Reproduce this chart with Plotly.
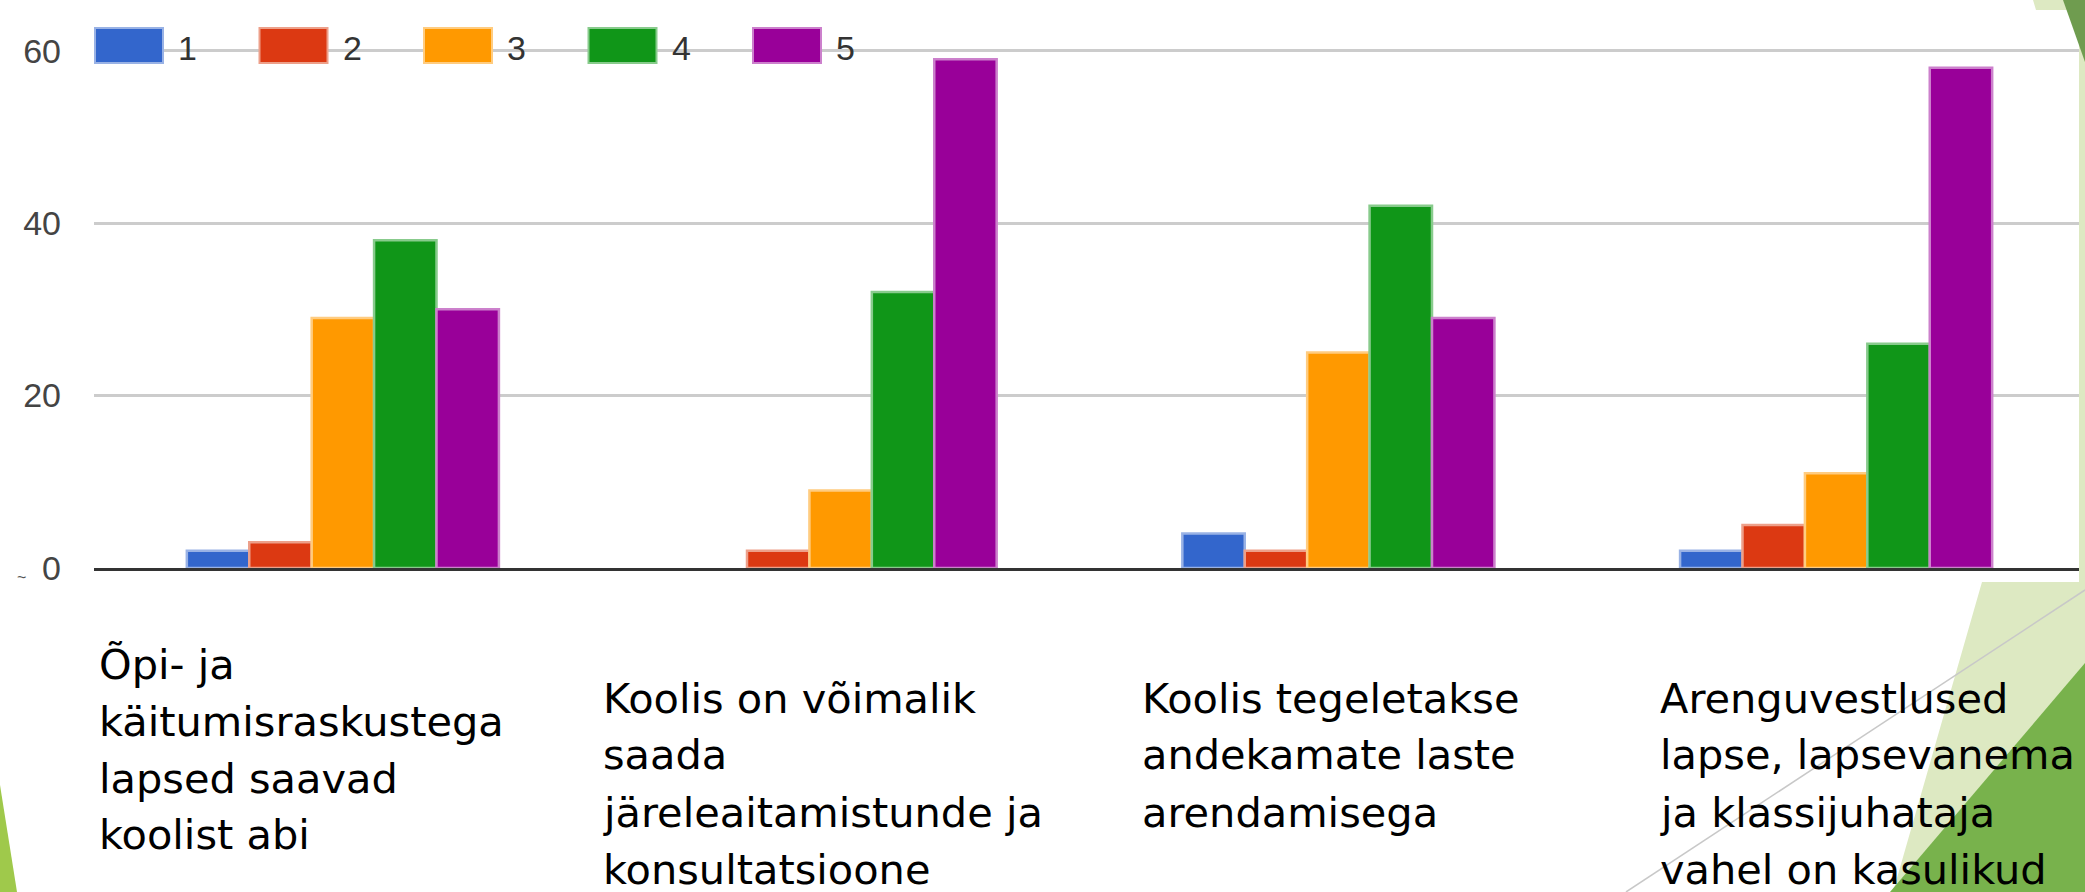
import plotly.graph_objects as go

# answer counts per statement, one list per rating 1..5
categories = [
    "Õpi- ja käitumisraskustega lapsed saavad koolist abi",
    "Koolis on võimalik saada järeleaitamistunde ja konsultatsioone",
    "Koolis tegeletakse andekamate laste arendamisega",
    "Arenguvestlused lapse, lapsevanema ja klassijuhataja vahel on kasulikud",
]
label_lines = [
    ["Õpi- ja", "käitumisraskustega", "lapsed saavad", "koolist abi"],
    ["Koolis on võimalik", "saada", "järeleaitamistunde ja", "konsultatsioone"],
    ["Koolis tegeletakse", "andekamate laste", "arendamisega"],
    ["Arenguvestlused", "lapse, lapsevanema", "ja klassijuhataja", "vahel on kasulikud"],
]
series_names = ["1", "2", "3", "4", "5"]
rating_1 = [2, 0, 4, 2]
rating_2 = [3, 2, 2, 5]
rating_3 = [29, 9, 25, 11]
rating_4 = [38, 32, 42, 26]
rating_5 = [30, 59, 29, 58]
y_ticks = [0, 20, 40, 60]

colors = ["#3366cc", "#dc3912", "#ff9900", "#109618", "#990099"]
edges = ["#99b2e5", "#eda08a", "#ffcc80", "#88cb8c", "#cc80cc"]

W, H = 2085, 892
L, R, T, B = 94, 0, 42, 324
PW, PH = W - L - R, H - T - B


def px(x):
    return (x - L) / PW


def py(y):
    return (H - B - y) / PH


fig = go.Figure()
for name, vals, c, e in zip(series_names, [rating_1, rating_2, rating_3, rating_4, rating_5], colors, edges):
    fig.add_trace(go.Bar(
        x=categories, y=vals, name=name,
        marker=dict(color=c, line=dict(color=e, width=[2.5 if v else 0 for v in vals])),
    ))

shapes = []
annotations = []

# legend drawn by hand: big boxes sitting on the top gridline
for i, (name, c, e) in enumerate(zip(series_names, colors, edges)):
    x0 = 95 + 164.5 * i
    shapes.append(dict(type="rect", xref="paper", yref="paper", x0=px(x0), x1=px(x0 + 68),
                       y0=py(63), y1=py(28), fillcolor=c, line=dict(color=e, width=2), layer="above"))
    annotations.append(dict(text=name, xref="paper", yref="paper", x=px(x0 + 81), y=py(48),
                            xanchor="left", yanchor="middle", showarrow=False,
                            font=dict(family="Liberation Sans", size=34, color="#333")))

# leftover glyph next to the zero label
annotations.append(dict(text="~", xref="paper", yref="paper", x=px(21), y=py(577),
                        xanchor="center", yanchor="middle", showarrow=False,
                        font=dict(family="Liberation Sans", size=16, color="#555")))

# category texts below the chart
label_left = [97, 601, 1140, 1658]
label_top = [678, 712, 712, 712]
for lines, lx, ly in zip(label_lines, label_left, label_top):
    for j, line in enumerate(lines):
        annotations.append(dict(text=line, xref="paper", yref="paper", x=px(lx), y=py(ly + 57 * j - 14),
                                xanchor="left", yanchor="middle", showarrow=False,
                                font=dict(family="DejaVu Sans", size=41.5, color="#000")))


def poly(points, color, layer="below"):
    path = "M " + " L ".join(f"{px(a)},{py(b)}" for a, b in points) + " Z"
    return dict(type="path", xref="paper", yref="paper", path=path, fillcolor=color,
                line=dict(width=0), layer=layer)


# slide decoration
shapes.append(poly([(2033, 0), (2085, 0), (2085, 892), (1893, 892), (1982, 582), (2079, 582), (2079, 10), (2036, 10)],
                   "#dde9c2", "above"))
shapes.append(poly([(2063, 0), (2085, 0), (2085, 62)], "#6f9c4f", "above"))
shapes.append(poly([(2085, 663), (2085, 892), (1890, 892)], "#78b24c", "above"))
shapes.append(poly([(0, 785), (0, 892), (17, 892)], "#9fc94b", "above"))
shapes.append(dict(type="line", xref="paper", yref="paper", x0=px(1626), y0=py(892), x1=px(2085), y1=py(590),
                   line=dict(color="#c8c8c8", width=1.5), layer="above"))

fig.update_layout(
    width=W,
    height=H,
    margin=dict(l=L, r=R, t=T, b=B, pad=0),
    paper_bgcolor="white",
    plot_bgcolor="white",
    barmode="group",
    bargap=0.373,
    bargroupgap=0,
    showlegend=False,
    shapes=shapes,
    annotations=annotations,
    xaxis=dict(
        type="category",
        showticklabels=False,
        showgrid=False,
        showline=True,
        linecolor="#333",
        linewidth=3,
        range=[-0.5, 3.5],
        fixedrange=True,
    ),
    yaxis=dict(
        range=[0, 61],
        tickvals=y_ticks,
        showgrid=True,
        gridcolor="#cccccc",
        gridwidth=2.5,
        zeroline=False,
        ticklabelstandoff=32,
        tickfont=dict(family="Liberation Sans", size=34, color="#444"),
    ),
)

fig.write_html("out.html", config={"displayModeBar": False},
               post_script="document.body.style.margin='0';")
